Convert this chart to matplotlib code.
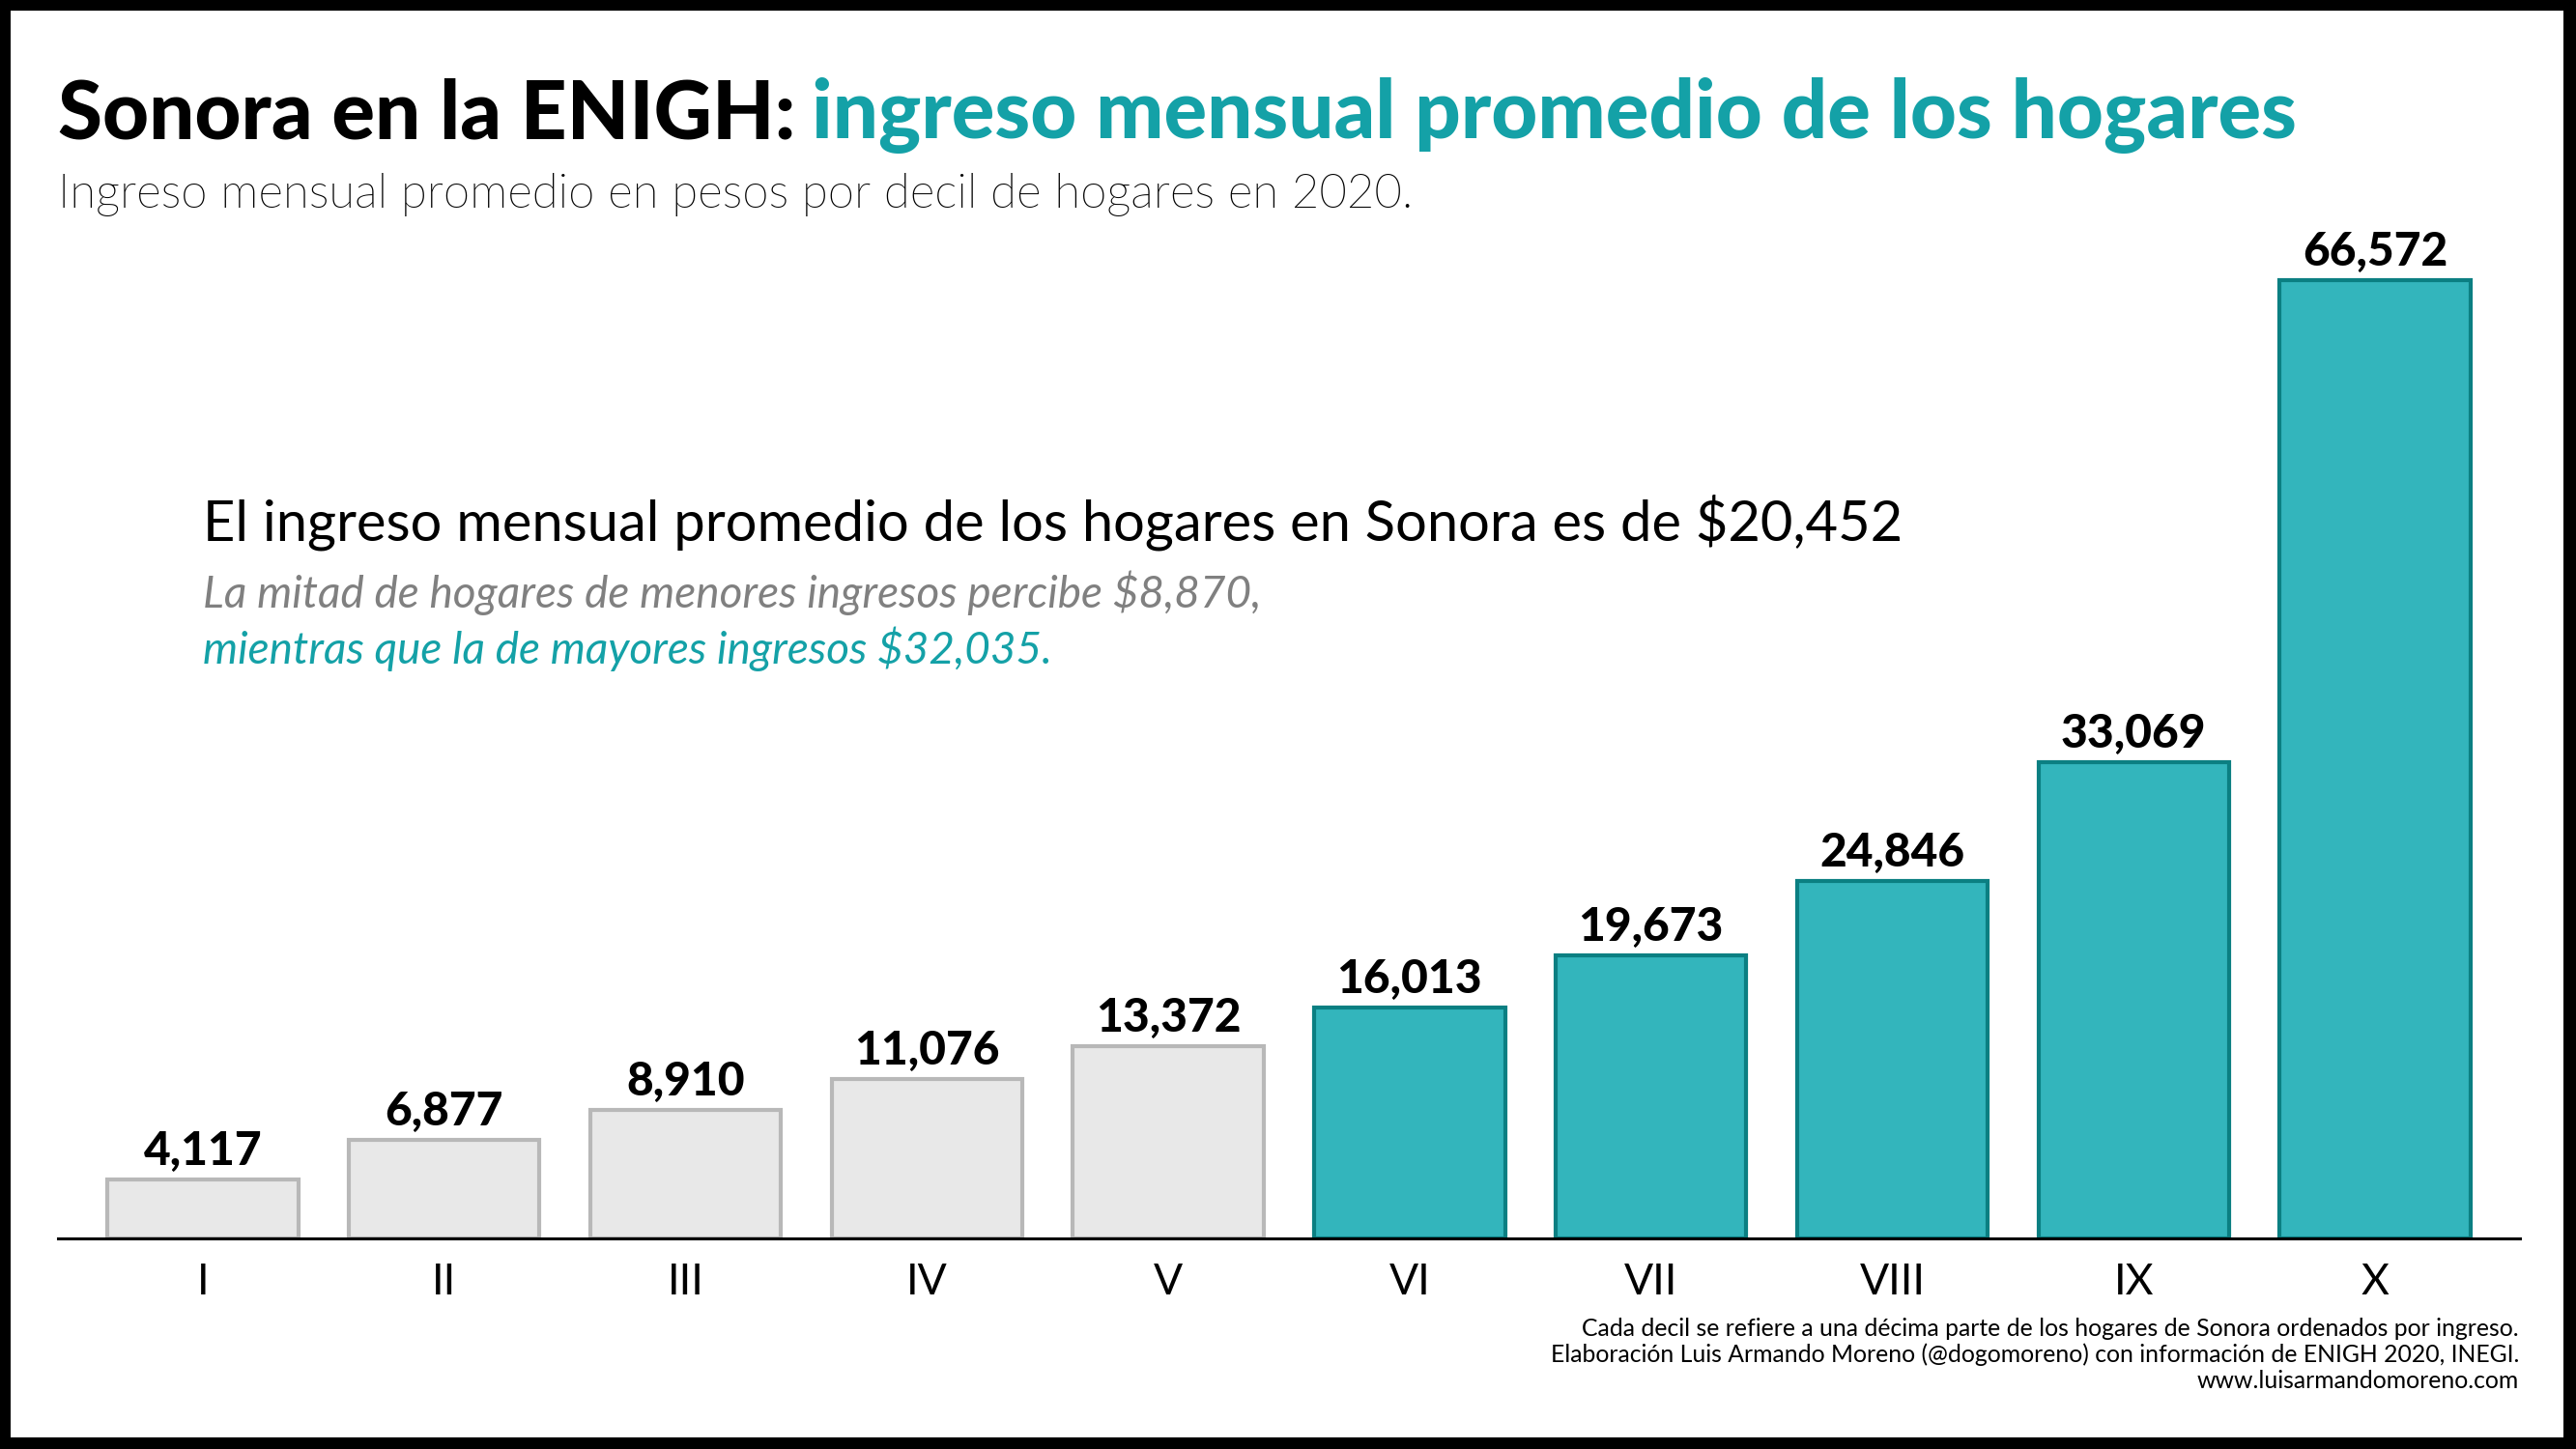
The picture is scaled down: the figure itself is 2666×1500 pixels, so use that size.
import matplotlib
matplotlib.use("Agg")
import matplotlib.pyplot as plt
from matplotlib import font_manager
from matplotlib.patches import Rectangle

# ingreso mensual promedio por decil, Sonora, ENIGH 2020
deciles = ["I", "II", "III", "IV", "V", "VI", "VII", "VIII", "IX", "X"]
ingreso = [4117, 6877, 8910, 11076, 13372, 16013, 19673, 24846, 33069, 66572]
mitad_superior = [False, False, False, False, False, True, True, True, True, True]

titulo_a = "Sonora en la ENIGH:"
titulo_b = "ingreso mensual promedio de los hogares"
subtitulo = "Ingreso mensual promedio en pesos por decil de hogares en 2020."
nota_1 = "El ingreso mensual promedio de los hogares en Sonora es de $20,452"
nota_2 = "La mitad de hogares de menores ingresos percibe $8,870,"
nota_3 = "mientras que la de mayores ingresos $32,035."
pie = ["Cada decil se refiere a una décima parte de los hogares de Sonora ordenados por ingreso.",
       "Elaboración Luis Armando Moreno (@dogomoreno) con información de ENIGH 2020, INEGI.",
       "www.luisarmandomoreno.com"]

TEAL = "#33b5bc"
TEAL_EDGE = "#0b7f82"
TEAL_TXT = "#14a1a7"
GRIS = "#e8e8e8"
GRIS_EDGE = "#b8b8b8"

plt.rcParams["font.family"] = ["Lato", "DejaVu Sans"]

# Lato Light para el subtitulo, si esta instalada
light = None
for f in font_manager.fontManager.ttflist:
    n = f.fname.lower()
    if "lato" in n and "light" in n and "italic" not in n:
        light = font_manager.FontProperties(fname=f.fname, size=35.4)
        break
if light is None:
    light = font_manager.FontProperties(family="Lato", size=35.4)

W, H = 2666, 1500
fig = plt.figure(figsize=(W / 100, H / 100), dpi=100, facecolor="black")
fig.patches.append(Rectangle((11 / W, 12 / H), (2653 - 11) / W, (1488 - 11) / H,
                             transform=fig.transFigure, facecolor="white",
                             edgecolor="none", zorder=-10))

# eje: linea base en y=1282 px, de x=60 a x=2608
ymax = 70000
ax_h = ymax * 0.014901 / H
ax = fig.add_axes([60 / W, (H - 1282) / H, (2608 - 60) / W, ax_h])
ax.set_facecolor("none")

x = range(len(deciles))
colores = [TEAL if s else GRIS for s in mitad_superior]
bordes = [TEAL_EDGE if s else GRIS_EDGE for s in mitad_superior]
ax.bar(x, ingreso, width=0.79, color=colores, edgecolor=bordes, linewidth=3)

for xi, v in zip(x, ingreso):
    ax.annotate(f"{v:,}", (xi, v), xytext=(0, 5), textcoords="offset points",
                ha="center", va="bottom", fontsize=34.5, fontweight="black")

ax.set_xlim(-0.6, 9.6)
ax.set_ylim(0, ymax)
ax.set_xticks(list(x))
ax.set_xticklabels(deciles, fontsize=32)
ax.tick_params(axis="x", length=0, pad=18)
ax.set_yticks([])
for s in ["top", "right", "left"]:
    ax.spines[s].set_visible(False)
ax.spines["bottom"].set_linewidth(2.2)

# titulo en dos colores
t1 = fig.text(60 / W, 1 - 143 / H, titulo_a, fontsize=60, fontweight="black",
              va="baseline", ha="left")
r = fig.canvas.get_renderer()
bb = t1.get_window_extent(r)
fig.text((bb.x1 + 17) / W, 1 - 143 / H, titulo_b, fontsize=60, fontweight="black",
         color=TEAL_TXT, va="baseline", ha="left")
fig.text(60 / W, 1 - 215 / H, subtitulo, fontproperties=light,
         va="baseline", ha="left")

fig.text(210 / W, 1 - 559 / H, nota_1, fontsize=41.7, va="baseline", ha="left")
fig.text(210 / W, 1 - 629 / H, nota_2, fontsize=33, style="italic", color="#808080",
         va="baseline", ha="left")
fig.text(210 / W, 1 - 687 / H, nota_3, fontsize=33, style="italic", color=TEAL_TXT,
         va="baseline", ha="left")

for i, linea in enumerate(pie):
    fig.text(2607 / W, 1 - (1383 + 27 * i) / H, linea, fontsize=17.8,
             va="baseline", ha="right")

fig.savefig("out.png", dpi=100, facecolor=fig.get_facecolor())
